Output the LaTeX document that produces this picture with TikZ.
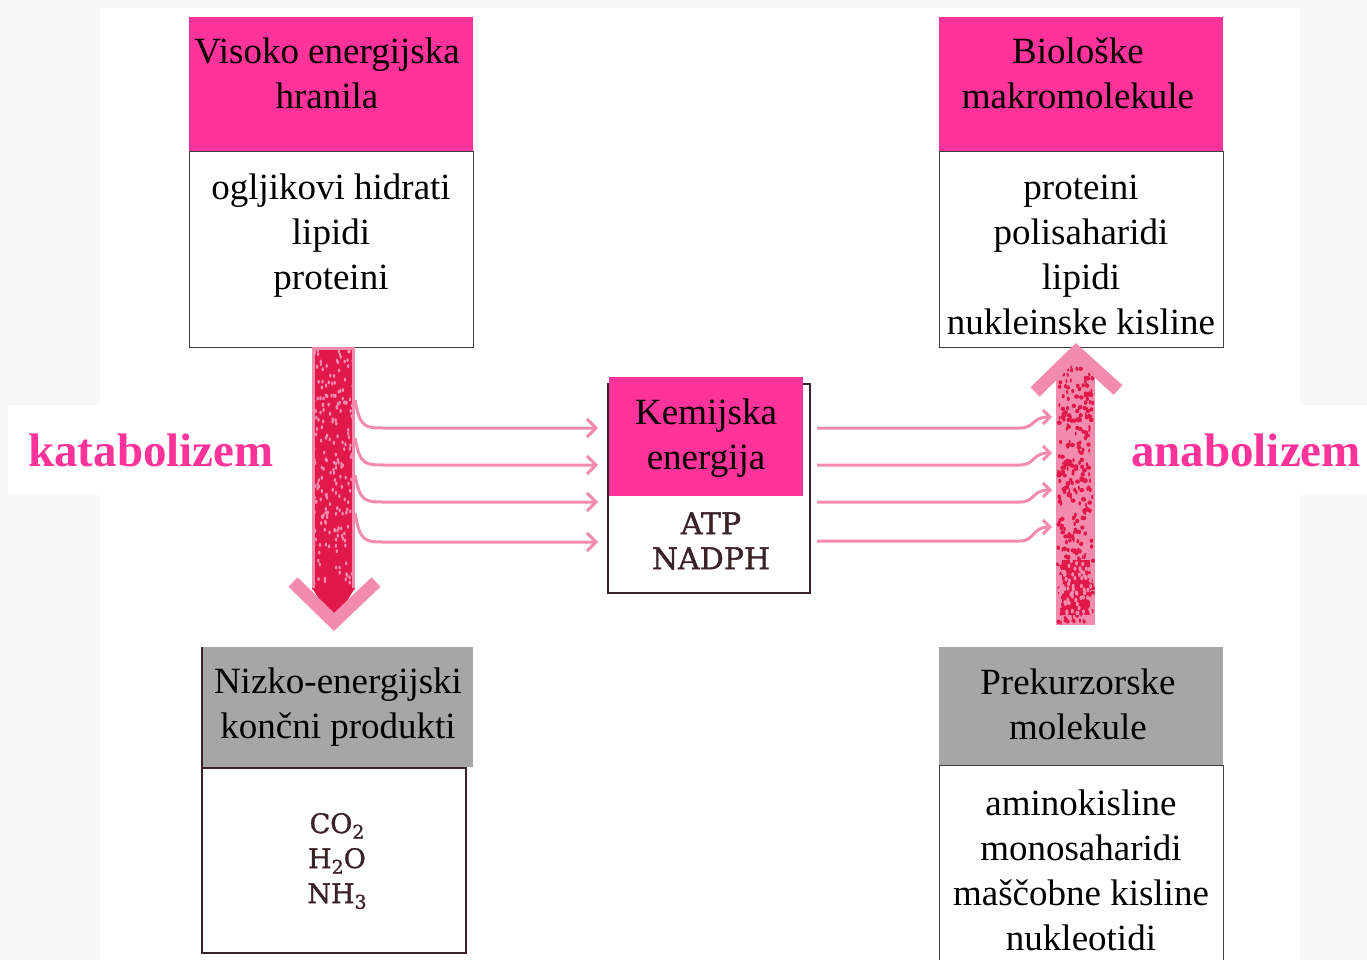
\documentclass[tikz,border=0pt]{standalone}
\usepackage{fontspec}
\setmainfont{Liberation Serif}
\newfontfamily\chemfont[FakeBold=1.2]{DejaVu Serif}
\usetikzlibrary{arrows.meta}
\definecolor{hotpink}{HTML}{FF3399}
\definecolor{hdrgrey}{HTML}{A6A6A6}
\definecolor{arrpink}{HTML}{F28BAC}
\definecolor{crimson}{HTML}{E0194A}
\definecolor{boxline}{HTML}{404040}
\definecolor{oldink}{HTML}{3A2226}
\definecolor{bgtex}{HTML}{F8F8F8}
\tikzset{
  hdrpink/.style={fill=hotpink, draw=none, inner sep=0pt, anchor=north west},
  hdrgray/.style={fill=hdrgrey, draw=none, inner sep=0pt, anchor=north west},
  bodybox/.style={draw=boxline, line width=1.3pt, fill=white, inner sep=0pt, anchor=north west},
  oldbox/.style={draw=oldink, line width=2pt, fill=white, inner sep=0pt, anchor=north west},
  txt/.style={font=\fontsize{37}{45}\selectfont, align=center, inner sep=0pt, text=black},
  bigtxt/.style={font=\fontsize{47}{50}\selectfont\bfseries, text=hotpink, inner sep=0pt},
  chemtxt/.style={font=\chemfont\fontsize{30}{35}\selectfont, align=center, inner sep=0pt, text=oldink},
  flow/.style={draw=arrpink, line width=3pt, -{Straight Barb[length=9pt,width=18pt,line width=3pt]}},
}
\newcommand{\lowsub}[1]{\raisebox{-0.4ex}{\scalebox{0.7}{#1}}}
\begin{document}
\begin{tikzpicture}[x=1pt,y=-1pt]
\useasboundingbox (0,0) rectangle (1367,960);
% background
\fill[bgtex] (0,0) rectangle (1367,960);
\fill[white] (100,8) rectangle (1300,960);
\fill[white] (8,405) rectangle (295,495);
\fill[white] (1120,405) rectangle (1367,495);

% ---- top left
\node[bodybox, minimum width=284pt, minimum height=196pt] (b1) at (189,151) {};
\node[hdrpink, minimum width=284pt, minimum height=134pt] (h1) at (189,17) {};
\node[txt] (t1) at (327,73) {Visoko energijska\\hranila};
\node[txt] (t1b) at (331,236) {ogljikovi hidrati\\lipidi\\proteini};

% ---- top right
\node[bodybox, minimum width=284pt, minimum height=196pt] (b2) at (939,151) {};
\node[hdrpink, minimum width=284pt, minimum height=134pt] (h2) at (939,17) {};
\node[txt] (t2) at (1078,73) {Biološke\\makromolekule};
\node[txt] (t2b) at (1081,255) {proteini\\polisaharidi\\lipidi\\nukleinske kisline};

% ---- center
\node[oldbox, minimum width=202pt, minimum height=209pt] (bc) at (607,383) {};
\node[hdrpink, minimum width=194pt, minimum height=119pt] (hc) at (609,377) {};
\node[txt] (tc) at (706,438) {Kemijska\\energija};
\node[chemtxt] (tcb) at (711,541) {ATP\\NADPH};

% ---- bottom left
\node[oldbox, minimum width=264pt, minimum height=185pt] (b3) at (201,767) {};
\node[hdrgray, minimum width=271pt, minimum height=120pt] (h3) at (202,647) {};
\draw[oldink, line width=2pt] (202,647) -- (202,767);
\node[txt] (t3) at (338,707) {Nizko-energijski\\končni produkti};
\node[chemtxt, font=\chemfont\fontsize{27}{35}\selectfont] (t3b) at (337,861) {CO\lowsub{2}\\H\lowsub{2}O\\NH\lowsub{3}};

% ---- bottom right
\node[bodybox, minimum width=284pt, minimum height=210pt] (b4) at (939,765) {};
\node[hdrgray, minimum width=284pt, minimum height=118pt] (h4) at (939,647) {};
\node[txt] (t4) at (1078,704) {Prekurzorske\\molekule};
\node[txt] (t4b) at (1081,870) {aminokisline\\monosaharidi\\maščobne kisline\\nukleotidi};

% ---- labels
\node[bigtxt] (kat) at (151,450) {katabolizem};
\node[bigtxt] (ana) at (1246,450) {anabolizem};

% ---- catabolic big arrow
\fill[arrpink] (312,347) rectangle (355,590);
\fill[crimson] (315,350) rectangle (352,590);
\pgfmathsetseed{11}
\foreach \i in {1,...,200}{
  \pgfmathsetmacro\px{314+39*rnd}
  \pgfmathsetmacro\py{350+235*rnd}
  \fill[arrpink] (\px,\py) ellipse (1.2pt and 2pt);
}
\fill[crimson] (312,588) -- (355,588) -- (334,622) -- cycle;
\draw[arrpink, line width=13pt, line cap=butt, line join=miter] (293,582) -- (334,622) -- (376,582);
\coordinate (cattip) at (334,628);

% ---- anabolic big arrow
\fill[arrpink] (1056,362) rectangle (1095,625);
\pgfmathsetseed{5}
\foreach \i in {1,...,320}{
  \pgfmathsetmacro\px{1058+35*rnd}
  \pgfmathsetmacro\py{365+258*rnd}
  \pgfmathsetmacro\sz{0.8+1.8*rnd}
  \fill[crimson] (\px,\py) ellipse (\sz pt and 2.2pt);
}
\fill[crimson] (1062,560) rectangle (1090,615);
\pgfmathsetseed{9}
\foreach \i in {1,...,90}{
  \pgfmathsetmacro\px{1058+35*rnd}
  \pgfmathsetmacro\py{555+65*rnd}
  \fill[arrpink] (\px,\py) ellipse (1.5pt and 2.2pt);
}
\draw[arrpink, line width=13pt, line cap=butt, line join=miter] (1035,392) -- (1076,352) -- (1118,390);
\fill[arrpink] (1056,362) -- (1095,362) -- (1076,352) -- cycle;

% ---- flow arrows, left
\foreach \ys/\ye [count=\k] in {400/428, 438/465, 475/502, 513/542}{
  \coordinate (ls\k) at (355,\ys);
  \coordinate (le\k) at (598,\ye);
  \draw[flow] (ls\k) .. controls (360,\ye) and (365,\ye) .. (385,\ye) -- (le\k);
}
% ---- flow arrows, right
\foreach \ys/\ye [count=\k] in {428/417, 465/453, 502/490, 541/527}{
  \coordinate (rs\k) at (817,\ys);
  \coordinate (re\k) at (1052,\ye);
  \draw[flow, -{Straight Barb[length=7pt,width=14pt,line width=3pt]}] (rs\k) -- (1020,\ys) .. controls (1035,\ys) and (1032,\ye) .. (re\k);
}
\end{tikzpicture}
\end{document}
